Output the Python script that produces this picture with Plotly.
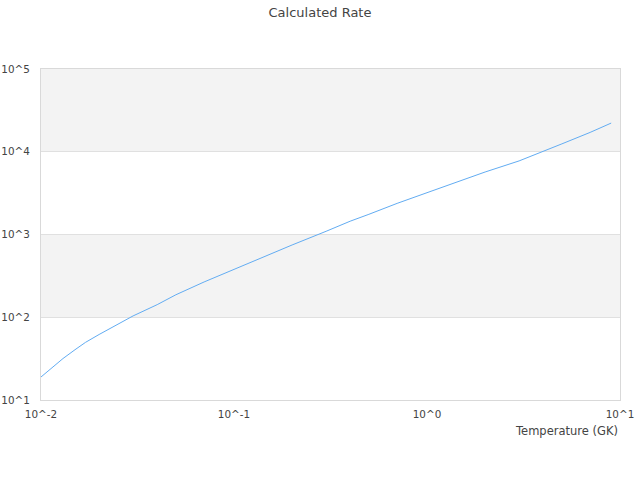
import plotly.graph_objects as go

# rate vs temperature
temperature = [0.01, 0.012, 0.013, 0.015, 0.017, 0.02, 0.03, 0.04, 0.05,
               0.07, 0.1, 0.15, 0.2, 0.3, 0.4, 0.5, 0.7, 1.0, 1.5, 2.0,
               3.0, 4.0, 5.0, 7.0, 9.0]
rate = [18.97, 27.6, 31.7, 40.5, 49.7, 61.9, 103.8, 142, 187,
        267, 379, 575, 747, 1093, 1448, 1754, 2377, 3200, 4520, 5690,
        7750, 10040, 12450, 17130, 22200]

x_ticks = [0.01, 0.1, 1, 10]
x_labels = ["10^-2", "10^-1", "10^0", "10^1"]
y_ticks = [10, 100, 1000, 10000, 100000]
y_labels = ["10^1", "10^2", "10^3", "10^4", "10^5"]

fig = go.Figure()
fig.add_trace(go.Scatter(
    x=temperature, y=rate, mode="lines",
    line=dict(color="#62acf2", width=1),
    showlegend=False))

# alternating grey bands (10^2-10^3, 10^4-10^5)
for y0, y1 in [(0.25, 0.5), (0.75, 1.0)]:
    fig.add_shape(type="rect", xref="paper", yref="y domain",
                  x0=0, x1=1, y0=y0, y1=y1,
                  fillcolor="#f3f3f3", line_width=0, layer="below")

fig.update_layout(
    width=640, height=480,
    margin=dict(l=41, r=20, t=69, b=80, autoexpand=False),
    paper_bgcolor="white", plot_bgcolor="white",
    font=dict(family="DejaVu Sans", size=10.4, color="#444"),
    title=dict(text="Calculated Rate", x=0.5, xanchor="center",
               yref="container", y=0.975, yanchor="middle",
               font=dict(size=13, color="#444")),
    xaxis=dict(type="log", range=[-2, 1], tickvals=x_ticks, ticktext=x_labels,
               showgrid=False, showline=True, mirror=True,
               linecolor="#d9d9d9", linewidth=1, zeroline=False,
               ticks="", ticklen=0, ticklabelstandoff=5, automargin=False),
    yaxis=dict(type="log", range=[1, 5], tickvals=y_ticks, ticktext=y_labels,
               showgrid=True, gridcolor="#e0e0e0", gridwidth=1,
               showline=True, mirror=True, linecolor="#d9d9d9", linewidth=1,
               zeroline=False, ticks="", ticklen=0, ticklabelstandoff=8,
               automargin=False),
)

fig.add_annotation(text="Temperature (GK)", xref="paper", yref="paper",
                   x=1, y=0, xanchor="right", yanchor="middle",
                   yshift=-31, showarrow=False,
                   font=dict(size=11.5, color="#444"))

# drop the default 8px body margin so the figure sits at the page corner
fig.write_html("out.html", config={"displayModeBar": False},
               post_script="document.body.style.margin='0px';")
